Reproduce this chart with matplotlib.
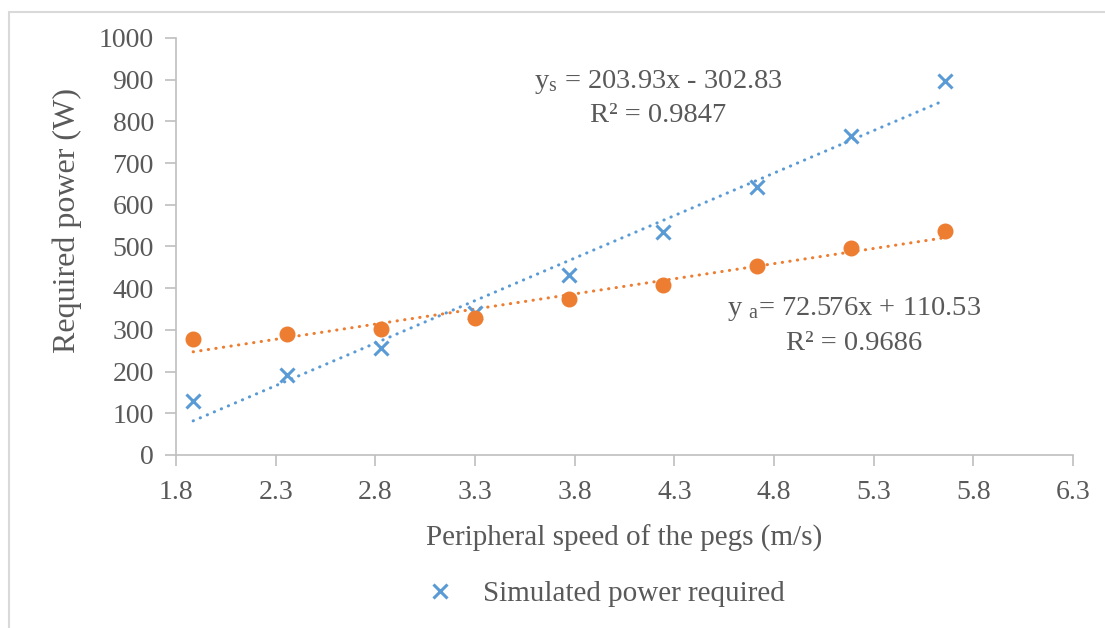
# required power vs peripheral speed of the pegs, with linear trendlines
import matplotlib
matplotlib.use('Agg')
import matplotlib.pyplot as plt
import numpy as np
from matplotlib.patches import Rectangle

plt.rcParams['font.family'] = ['Liberation Serif', 'DejaVu Serif']
plt.rcParams['mathtext.fontset'] = 'custom'
plt.rcParams['mathtext.rm'] = 'Liberation Serif'
plt.rcParams['mathtext.it'] = 'Liberation Serif:italic'

# peg speed (m/s)
speed = [1.886, 2.357, 2.828, 3.300, 3.771, 4.243, 4.714, 5.185, 5.657]
# simulated and actual power (W)
p_sim = [130, 192, 257, 340, 431, 534, 643, 765, 898]
p_act = [277, 290, 301, 328, 373, 408, 454, 496, 536]

# trendline coefficients (slope, intercept)
fit_sim = (203.93, -302.83)
fit_act = (72.576, 110.53)
r2_sim = 0.9847
r2_act = 0.9686

xticks = [1.8, 2.3, 2.8, 3.3, 3.8, 4.3, 4.8, 5.3, 5.8, 6.3]
yticks = list(range(0, 1001, 100))

blue = '#5B9BD5'
orange = '#ED7D31'
txt = '#595959'
grid = '#BFBFBF'

fig = plt.figure(figsize=(11.05, 6.28), dpi=100)
ax = fig.add_axes([0.1593, 0.2755, 0.8117, 0.664])

# outer frame
fig.patches.append(Rectangle((9 / 1105, -0.1), 1.2, 1.1 - 12 / 628,
                             transform=fig.transFigure, fill=False,
                             edgecolor='#D9D9D9', linewidth=1.5))

x = np.array(speed)
xl = np.array([x.min(), x.max()])
ax.plot(xl, fit_sim[0] * xl + fit_sim[1], color=blue, lw=2.2,
        linestyle=(0, (0.1, 2.4)), dash_capstyle='round', zorder=2)
ax.plot(xl, fit_act[0] * xl + fit_act[1], color=orange, lw=2.2,
        linestyle=(0, (0.1, 2.4)), dash_capstyle='round', zorder=2)

sim, = ax.plot(speed, p_sim, 'x', color=blue, ms=10, mew=2.2, zorder=3,
               label='Simulated power required')
ax.plot(speed, p_act, 'o', color=orange, ms=10.5, mec=orange, zorder=4)

# equations
fs = 20.5
ax.text(4.218, 894, 'y$_\\mathrm{s}$ = %.2fx - %.2f' % (fit_sim[0], -fit_sim[1]),
        ha='center', va='center', fontsize=fs, color=txt)
ax.text(4.218, 813, 'R² = %.4f' % r2_sim, ha='center', va='center',
        fontsize=fs, color=txt)
ax.text(5.202, 350, 'y $_\\mathrm{a}$= %.3fx + %.2f' % fit_act,
        ha='center', va='center', fontsize=fs, color=txt)
ax.text(5.202, 268, 'R² = %.4f' % r2_act, ha='center', va='center',
        fontsize=fs, color=txt)

ax.set_xlim(1.8, 6.3)
ax.set_ylim(0, 1000)
ax.set_xticks(xticks)
ax.set_xticklabels(['%.1f' % t for t in xticks])
ax.set_yticks(yticks)

for s in ['top', 'right']:
    ax.spines[s].set_visible(False)
for s in ['left', 'bottom']:
    ax.spines[s].set_color(grid)
    ax.spines[s].set_linewidth(1.2)
ax.tick_params(axis='both', colors=grid, labelcolor=txt, labelsize=20,
               length=8, width=1.2)
ax.tick_params(axis='x', pad=10)
ax.tick_params(axis='y', pad=8)

ax.set_xlabel('Peripheral speed of the pegs (m/s)', fontsize=21, color=txt,
              labelpad=14)
ax.set_ylabel('Required power (W)', fontsize=23, color=txt)
ax.yaxis.label.set_va('center')
ax.yaxis.set_label_coords(-0.1215, 0.5635)

leg = fig.legend(handles=[sim], loc='center', bbox_to_anchor=(0.541, 0.054),
                 frameon=False, fontsize=21, handlelength=2.0,
                 handletextpad=0.5)
for t in leg.get_texts():
    t.set_color(txt)

plt.savefig('out.png', dpi=100)
